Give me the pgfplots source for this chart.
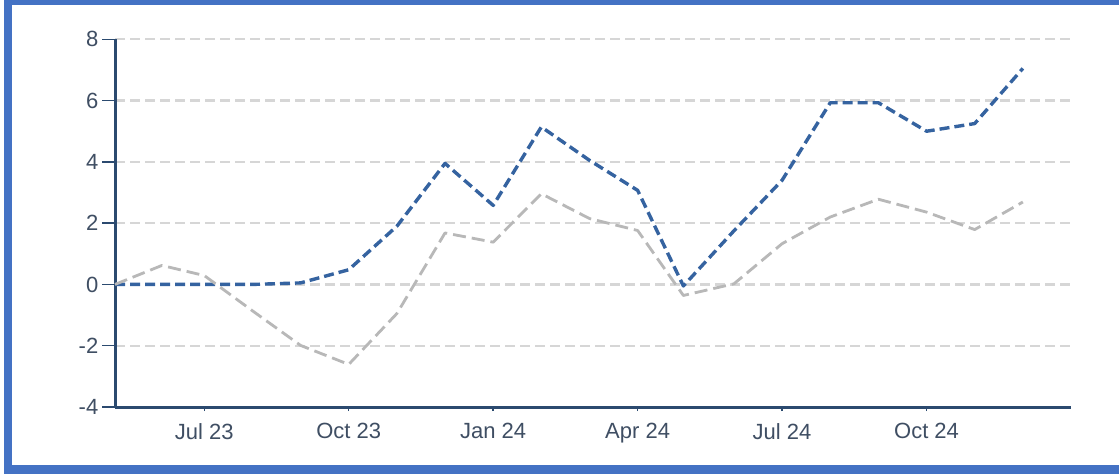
\documentclass[border=0pt]{standalone}
\usepackage{pgfplots}
\pgfplotsset{compat=1.18}
\usepackage{fontspec}
\setmainfont{Liberation Sans}
\definecolor{bordercol}{HTML}{4472C4}
\definecolor{axiscol}{HTML}{2B4A6F}
\definecolor{labelcol}{HTML}{3F4E63}
\definecolor{gridcol}{HTML}{D6D6D6}
\definecolor{blueline}{HTML}{3563A0}
\definecolor{grayline}{HTML}{B8B8B8}
\begin{document}
\begin{tikzpicture}
\useasboundingbox (0,0) rectangle (1119pt,474pt);
\fill[white] (0,0) rectangle (1119pt,474pt);
\begin{axis}[
  at={(115pt,67pt)}, anchor=south west,
  scale only axis, width=956pt, height=367.7pt,
  xmin=5.146, xmax=25, ymin=-4, ymax=8,
  ytick={-4,-2,0,2,4,6,8},
  xtick={7,10,13,16,19,22},
  xticklabels={Jul 23, Oct 23, Jan 24, Apr 24, Jul 24, Oct 24},
  axis x line*=bottom, axis y line*=left,
  axis line style={color=axiscol, line width=3pt},
  ymajorgrids,
  grid style={gridcol, line width=2.2pt, dash pattern=on 10pt off 5pt},
  tick align=outside,
  major tick length=13pt,
  tick style={axiscol, line width=1.5pt},
  xtick style={/pgfplots/major tick length=4pt},
  ticklabel style={font=\fontsize{22}{26}\selectfont, text=labelcol},
  /pgf/number format/assume math mode=true,
  yticklabel style={inner sep=3.5pt},
  xticklabel style={inner sep=3pt},
  clip=false,
]
\addplot[blueline, line width=3.4pt, dash pattern=on 10pt off 5pt, line join=round] coordinates {
(5.146,0) (6.12,0) (7,0) (8,0) (9,0.05) (10,0.48) (11,1.9) (12,3.95) (13,2.58) (14,5.14) (15,4.05) (16,3.07) (16.95,-0.05) (18,1.75) (19,3.4) (20,5.93) (21,5.93) (22,5.0) (23,5.25) (24,7.05)
};
\addplot[grayline, line width=2.8pt, dash pattern=on 13pt off 6pt, line join=round] coordinates {
(5.146,0) (6.12,0.62) (7,0.29) (8,-0.86) (9,-1.99) (10,-2.61) (11,-0.95) (12,1.68) (13,1.38) (14,2.96) (15,2.15) (16,1.76) (16.95,-0.36) (18,0.02) (19,1.33) (20,2.2) (21,2.78) (22,2.36) (23,1.79) (24,2.69)
};
\end{axis}
\fill[bordercol] (4pt,469pt) rectangle (1119pt,474pt);
\fill[bordercol] (4pt,0pt) rectangle (12pt,474pt);
\fill[bordercol] (4pt,0pt) rectangle (1119pt,9pt);
\end{tikzpicture}
\end{document}
